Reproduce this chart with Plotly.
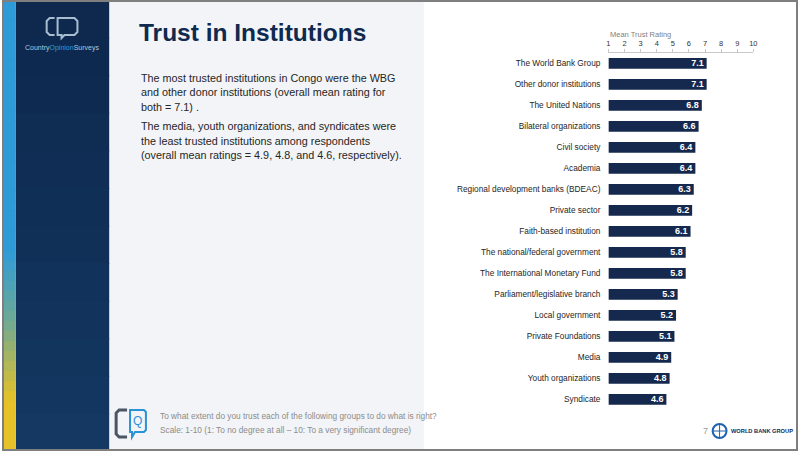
import plotly.graph_objects as go

# ---------------- data ----------------
categories = [
    "The World Bank Group", "Other donor institutions", "The United Nations",
    "Bilateral organizations", "Civil society", "Academia",
    "Regional development banks (BDEAC)", "Private sector", "Faith-based institution",
    "The national/federal government", "The International Monetary Fund",
    "Parliament/legislative branch", "Local government", "Private Foundations",
    "Media", "Youth organizations", "Syndicate",
]
ratings = [7.1, 7.1, 6.8, 6.6, 6.4, 6.4, 6.3, 6.2, 6.1, 5.8, 5.8, 5.3, 5.2, 5.1, 4.9, 4.8, 4.6]
scale_min, scale_max = 1, 10
tick_values = list(range(1, 11))

title_text = "Trust in Institutions"
para1 = ["The most trusted institutions in Congo were the WBG",
         "and other donor institutions (overall mean rating for",
         "both = 7.1) ."]
para2 = ["The media, youth organizations, and syndicates were",
         "the least trusted institutions among respondents",
         "(overall mean ratings = 4.9, 4.8, and 4.6, respectively)."]
question = ["To what extent do you trust each of the following groups to do what is right?",
            "Scale: 1-10 (1: To no degree at all \u2013 10: To a very significant degree)"]

# ---------------- layout helpers ----------------
W, H = 802, 451
FONT = "Liberation Sans, Arial, sans-serif"


def X(px):
    return px / W


def Y(py):
    return 1 - py / H


def path(cmds):
    out = []
    for cmd in cmds:
        if isinstance(cmd, str):
            out.append(cmd)
        else:
            out.append(f"{X(cmd[0]):.5f},{Y(cmd[1]):.5f}")
    return " ".join(out)


shapes = []
annotations = []


def rect(x0, y0, x1, y1, fill, line=None, lw=0):
    shapes.append(dict(type="rect", xref="paper", yref="paper",
                       x0=X(x0), x1=X(x1), y0=Y(y1), y1=Y(y0),
                       fillcolor=fill, line=dict(width=lw, color=line or fill),
                       layer="below"))


def text(x, y, s, size, color, anchor="left", bold=False, vanchor="middle"):
    annotations.append(dict(x=X(x), y=Y(y), xref="paper", yref="paper", text=(f"<b>{s}</b>" if bold else s),
                            showarrow=False, xanchor=anchor, yanchor=vanchor,
                            font=dict(family=FONT, size=size, color=color), align="left"))


# backgrounds
rect(108, 0, 425, 451, "#F2F4F7")
n_seg = 12
for i in range(n_seg):
    t = i / (n_seg - 1)
    r = int(14 + (20 - 14) * t)
    g = int(40 + (56 - 40) * t)
    b = int(78 + (98 - 78) * t)
    rect(14, i * H / n_seg, 108, (i + 1) * H / n_seg + 1, f"rgb({r},{g},{b})")


def lerp(c1, c2, t):
    return tuple(int(c1[k] + (c2[k] - c1[k]) * t) for k in range(3))


blue = (46, 155, 216)
green = (110, 170, 150)
yellow = (230, 194, 40)
n_s = 45
for i in range(n_s):
    y0 = i * H / n_s
    yc = y0 + H / n_s / 2
    if yc < 250:
        c = blue
    elif yc < 320:
        c = lerp(blue, green, (yc - 250) / 70)
    elif yc < 400:
        c = lerp(green, yellow, (yc - 320) / 80)
    else:
        c = yellow
    rect(2, y0, 14, y0 + H / n_s + 1, "rgb(%d,%d,%d)" % c)

# top-left logo
shapes.append(dict(type="path", xref="paper", yref="paper",
                   path=path(["M", (53, 18), "L", (48, 18), "L", (45, 21), "L", (45, 32), "L", (48, 35), "L", (53, 35)]),
                   line=dict(color="#A9BDD1", width=2)))
shapes.append(dict(type="path", xref="paper", yref="paper",
                   path=path(["M", (56, 18), "L", (73, 18), "L", (76, 21), "L", (76, 32), "L", (73, 35),
                              "L", (63, 35), "L", (60, 38), "L", (60, 35), "L", (56, 35), "Z"]),
                   line=dict(color="#A9BDD1", width=2)))
annotations.append(dict(x=X(60), y=Y(48), xref="paper", yref="paper", showarrow=False,
                        text="Country<span style='color:#2E9BD8'>Opinion</span>Surveys",
                        font=dict(family=FONT, size=7, color="#B5C6D8"), xanchor="center", yanchor="middle"))

# title & paragraphs
text(136, 33, title_text, 24.5, "#0F2A4F", bold=True)
for i, line in enumerate(para1):
    text(138, 78 + i * 14.5, line, 10.8, "#262626")
for i, line in enumerate(para2):
    text(138, 126 + i * 14.5, line, 10.8, "#262626")

# bottom question icon
shapes.append(dict(type="path", xref="paper", yref="paper",
                   path=path(["M", (126, 410), "L", (118, 410), "L", (115, 413), "L", (115, 434), "L", (118, 437), "L", (126, 437)]),
                   line=dict(color="#4B5563", width=3)))
shapes.append(dict(type="path", xref="paper", yref="paper",
                   path=path(["M", (129, 410), "L", (143, 410), "L", (145, 412), "L", (145, 430), "L", (143, 432),
                              "L", (134, 432), "L", (131, 437), "L", (131, 432), "L", (129, 432), "Z"]),
                   line=dict(color="#2A93D5", width=2)))
text(137, 421, "Q", 12, "#2A93D5", anchor="center")
for i, line in enumerate(question):
    text(157, 416 + i * 13.5, line, 8.3, "#8C8C8C")

# footer page number and WBG logo
text(704, 431, "7", 9, "#9A9A9A")
shapes.append(dict(type="circle", xref="paper", yref="paper",
                   x0=X(716), x1=X(730), y0=Y(438), y1=Y(424),
                   line=dict(color="#1F63B0", width=2), fillcolor="rgba(0,0,0,0)"))
shapes.append(dict(type="line", xref="paper", yref="paper", x0=X(716), x1=X(730), y0=Y(431), y1=Y(431),
                   line=dict(color="#1F63B0", width=1)))
shapes.append(dict(type="line", xref="paper", yref="paper", x0=X(723), x1=X(723), y0=Y(424), y1=Y(438),
                   line=dict(color="#1F63B0", width=1)))
text(732, 431, "WORLD BANK GROUP", 5.7, "#0D2C5B", bold=True)

# chart axis title
text(611, 34, "Mean Trust Rating", 7.5, "#7F7F7F")

# outer border
shapes.append(dict(type="rect", xref="paper", yref="paper", x0=X(1), x1=X(801), y0=Y(450), y1=Y(1),
                   line=dict(color="#7F7F7F", width=2), fillcolor="rgba(0,0,0,0)", layer="above"))

# ---------------- chart ----------------
fig = go.Figure(go.Bar(
    y=categories,
    x=[v - scale_min for v in ratings],
    base=[scale_min] * len(ratings),
    orientation="h",
    marker=dict(color="#14294D", line=dict(width=0)),
    text=[f"{v:.1f}" for v in ratings],
    textposition="inside",
    insidetextanchor="end",
    textangle=0,
    constraintext="none",
    textfont=dict(family=FONT, size=9, color="white", weight="bold"),
    cliponaxis=False,
    hoverinfo="skip",
))

fig.update_layout(
    width=W, height=H,
    margin=dict(l=0, r=0, t=0, b=0),
    paper_bgcolor="white", plot_bgcolor="rgba(0,0,0,0)",
    bargap=0.49,
    showlegend=False,
    shapes=shapes,
    annotations=annotations,
    xaxis=dict(domain=[X(611), X(757)], range=[scale_min, scale_max], side="top",
               tickvals=tick_values, ticktext=[str(t) for t in tick_values],
               showgrid=False, zeroline=False, showline=True, linecolor="#C8C8C8", linewidth=1,
               ticks="outside", ticklen=3, tickcolor="#C8C8C8",
               tickfont=dict(family=FONT, size=7.5, color="#333333"), fixedrange=True),
    yaxis=dict(domain=[Y(409.8), Y(52.8)], autorange="reversed", showgrid=False, zeroline=False,
               showline=False, ticks="", ticklabelstandoff=7,
               tickfont=dict(family=FONT, size=8.3, color="#262626"), fixedrange=True),
    font=dict(family=FONT),
)

fig.write_html("out.html", config={"displayModeBar": False},
               post_script="document.body.style.margin='0';document.body.style.overflow='hidden';")
